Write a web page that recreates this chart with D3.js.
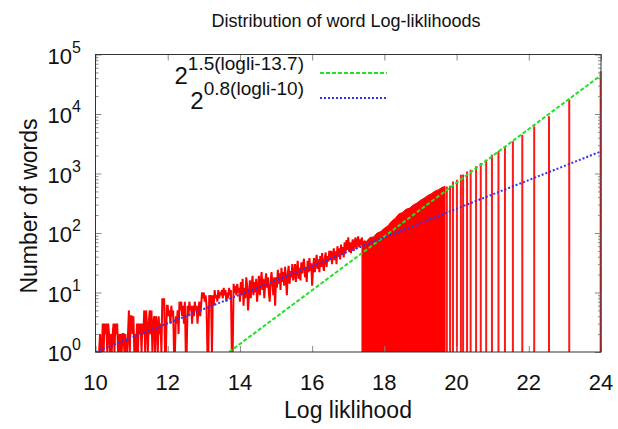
<!DOCTYPE html>
<html>
<head>
<meta charset="utf-8">
<script src="https://cdn.jsdelivr.net/npm/d3@7"></script>
<style>
    body { margin: 0; background: #fff; }
    text { font-family: "Liberation Sans", Arial, sans-serif; fill: #111; }
</style>
</head>
<body>
<div id="chart"></div>
<script>
// Histogram counts, bins of 0.025 starting at logli = 10 (noisy part up to 17.4)
const binStart = 10;
const binWidth = 0.025;
const lowCounts = [
    1, 1, 1, 1, 1, 2, 1, 1, 3, 1, 3, 2, 3, 1, 3, 2, 1, 2, 1, 2,
    3, 1, 3, 2, 3, 1, 2, 1, 2, 1, 2, 2, 1, 2, 1, 1, 2, 5, 1, 4,
    4, 2, 4, 1, 2, 1, 3, 1, 3, 2, 3, 1, 3, 2, 5, 1, 5, 3, 1, 3,
    5, 2, 5, 1, 3, 4, 1, 4, 3, 1, 4, 2, 3, 1, 8, 6, 8, 1, 1, 6,
    6, 4, 5, 3, 6, 4, 5, 1, 1, 4, 3, 5, 2, 7, 5, 7, 4, 6, 3, 7,
    1, 1, 6, 4, 7, 5, 6, 3, 6, 4, 7, 5, 6, 3, 5, 7, 4, 6, 10, 8,
    10, 7, 9, 6, 1, 1, 9, 7, 9, 1, 9, 6, 11, 8, 9, 7, 11, 8, 10, 9,
    11, 8, 12, 9, 11, 7, 10, 8, 12, 9, 11, 1, 1, 14, 10, 13, 9, 14, 11, 12,
    7, 15, 9, 17, 6, 12, 8, 18, 13, 5, 9, 16, 8, 13, 19, 9, 15, 10, 17, 7,
    12, 19, 9, 15, 22, 11, 17, 8, 14, 21, 12, 18, 10, 7, 16, 22, 14, 9, 18, 6,
    18, 12, 24, 14, 21, 11, 26, 15, 22, 13, 27, 17, 9, 21, 28, 14, 23, 18, 30, 16,
    20, 30, 15, 24, 34, 17, 26, 16, 32, 21, 30, 37, 18, 27, 15, 34, 22, 38, 23, 31,
    13, 25, 38, 22, 32, 43, 25, 36, 22, 41, 27, 46, 30, 23, 38, 47, 27, 41, 33, 50,
    35, 50, 30, 42, 55, 35, 49, 30, 60, 40, 55, 36, 64, 43, 58, 39, 70, 46, 76, 52,
    85, 50, 70, 46, 64, 78, 50, 68, 84, 54, 72, 88, 58, 78, 62, 84, 68
];

// Dense block of the histogram (drawn filled down to the axis)
const denseX = [17.38, 17.45, 17.5, 17.6, 17.7, 17.8, 17.9, 18.0, 18.1, 18.2, 18.3, 18.4,
    18.5, 18.6, 18.7, 18.8, 18.9, 19.0, 19.1, 19.2, 19.3, 19.4, 19.5, 19.6, 19.68];
const denseCounts = [68, 74, 72, 84, 86, 100, 106, 120, 132, 158, 176, 208,
    222, 250, 262, 295, 318, 355, 385, 425, 458, 505, 535, 585, 605];

// Isolated spikes in the tail
const spikeX = [19.73, 19.82, 19.90, 20.01, 20.12, 20.18, 20.29, 20.39, 20.54, 20.67,
    20.82, 20.98, 21.16, 21.34, 21.56, 21.82, 22.15, 22.56, 23.12, 23.99];
const spikeCounts = [607, 623, 736, 787, 955, 960, 1084, 1159, 1318, 1503,
    1708, 2071, 2355, 2859, 3470, 4500, 6210, 9140, 17470, 52400];

// Fitted power laws 2^(a(logli-b))
const fitLabels = ['1.5(logli-13.7)', '0.8(logli-10)'];
const fitSlopes = [1.5, 0.8];
const fitOffsets = [13.7, 10];

const xTicks = [10, 12, 14, 16, 18, 20, 22, 24];
const yExponents = [0, 1, 2, 3, 4, 5];

// Set up the dimensions
const width = 618;
const height = 429;
const plot = { left: 95.5, right: 601, top: 54.5, bottom: 352 };
const fitColors = ['#22e022', '#3333ee'];
const fitDash = ['4,2', '2,2'];

const svg = d3.select('#chart').append('svg')
    .attr('width', width)
    .attr('height', height);

const x = d3.scaleLinear().domain([10, 24]).range([plot.left, plot.right]);
const y = d3.scaleLog().domain([1, 1e5]).range([plot.bottom, plot.top]);

svg.append('clipPath').attr('id', 'clip')
    .append('rect')
    .attr('x', plot.left)
    .attr('y', plot.top)
    .attr('width', plot.right - plot.left + 2)
    .attr('height', plot.bottom - plot.top);

const g = svg.append('g').attr('clip-path', 'url(#clip)');

// Noisy part of the histogram as a line
const lowData = lowCounts.map((c, i) => ({ x: binStart + i * binWidth, c: c }));
g.append('path')
    .datum(lowData)
    .attr('fill', 'none')
    .attr('stroke', '#ff0000')
    .attr('stroke-width', 2)
    .attr('d', d3.line().x(d => x(d.x)).y(d => y(d.c)));

// Dense block
const denseData = denseX.map((v, i) => ({ x: v, c: denseCounts[i] }));
g.append('path')
    .datum(denseData)
    .attr('fill', '#ff0000')
    .attr('stroke', '#ff0000')
    .attr('stroke-width', 1)
    .attr('d', d3.area().x(d => x(d.x)).y0(y(1)).y1(d => y(d.c)));

// Spikes
g.selectAll('.spike')
    .data(spikeX.map((v, i) => ({ x: v, c: spikeCounts[i] })))
    .enter().append('line')
    .attr('class', 'spike')
    .attr('x1', d => x(d.x))
    .attr('x2', d => x(d.x))
    .attr('y1', y(1))
    .attr('y2', d => y(d.c))
    .attr('stroke', '#ff1a1a')
    .attr('stroke-width', 2);

// Fit lines (straight in log space, clipped at 1)
fitSlopes.forEach((a, i) => {
    const b = fitOffsets[i];
    const f = v => Math.pow(2, a * (v - b));
    const x0 = Math.max(10, b);
    g.append('line')
        .attr('x1', x(x0))
        .attr('y1', y(f(x0)))
        .attr('x2', x(24))
        .attr('y2', y(f(24)))
        .attr('stroke', fitColors[i])
        .attr('stroke-width', 2)
        .attr('stroke-dasharray', fitDash[i]);
});

// Ticks, inward on all four sides
const tickColor = '#888';
const minorTicks = y.ticks().filter(v => Math.abs(Math.log10(v) - Math.round(Math.log10(v))) > 1e-6);
function drawTicks(axis, transform) {
    const a = svg.append('g').attr('transform', transform).call(axis);
    a.select('.domain').remove();
    a.selectAll('line').attr('stroke', tickColor);
    a.selectAll('text').remove();
}
drawTicks(d3.axisBottom(x).tickValues(xTicks).tickSize(-6), `translate(0,${plot.bottom})`);
drawTicks(d3.axisTop(x).tickValues(xTicks).tickSize(-6), `translate(0,${plot.top})`);
drawTicks(d3.axisLeft(y).tickValues(yExponents.map(e => Math.pow(10, e))).tickSize(-6), `translate(${plot.left},0)`);
drawTicks(d3.axisLeft(y).tickValues(minorTicks).tickSize(-3), `translate(${plot.left},0)`);
drawTicks(d3.axisRight(y).tickValues(yExponents.map(e => Math.pow(10, e))).tickSize(-6), `translate(${plot.right},0)`);
drawTicks(d3.axisRight(y).tickValues(minorTicks).tickSize(-3), `translate(${plot.right},0)`);

// Frame
svg.append('rect')
    .attr('x', plot.left)
    .attr('y', plot.top)
    .attr('width', plot.right - plot.left)
    .attr('height', plot.bottom - plot.top)
    .attr('fill', 'none')
    .attr('stroke', '#333')
    .attr('stroke-width', 1);

// Tick labels
svg.selectAll('.xlab')
    .data(xTicks)
    .enter().append('text')
    .attr('class', 'xlab')
    .attr('x', d => x(d))
    .attr('y', 390)
    .attr('text-anchor', 'middle')
    .attr('font-size', '22px')
    .text(d => d);

const ylab = svg.selectAll('.ylab')
    .data(yExponents)
    .enter().append('text')
    .attr('class', 'ylab')
    .attr('x', 81)
    .attr('y', d => y(Math.pow(10, d)) + 9)
    .attr('text-anchor', 'end')
    .attr('font-size', '22px');
ylab.append('tspan').text('10');
ylab.append('tspan')
    .attr('dy', -11)
    .attr('font-size', '16px')
    .text(d => d);

// Title and axis labels
svg.append('text')
    .attr('x', 346)
    .attr('y', 27)
    .attr('text-anchor', 'middle')
    .attr('font-size', '18px')
    .text('Distribution of word Log-liklihoods');

svg.append('text')
    .attr('x', 348)
    .attr('y', 418)
    .attr('text-anchor', 'middle')
    .attr('font-size', '23px')
    .text('Log liklihood');

svg.append('text')
    .attr('transform', 'translate(37,206) rotate(-90)')
    .attr('text-anchor', 'middle')
    .attr('font-size', '23px')
    .text('Number of words');

// Legend
const legendY = [73, 98];
fitLabels.forEach((lab, i) => {
    const t = svg.append('text')
        .attr('x', 304)
        .attr('y', legendY[i] + 11)
        .attr('text-anchor', 'end')
        .attr('font-size', '24px');
    t.append('tspan').text('2');
    t.append('tspan')
        .attr('dy', -14)
        .attr('font-size', '19px')
        .text(lab);
    svg.append('line')
        .attr('x1', 320)
        .attr('x2', 387)
        .attr('y1', legendY[i])
        .attr('y2', legendY[i])
        .attr('stroke', fitColors[i])
        .attr('stroke-width', 2)
        .attr('stroke-dasharray', fitDash[i]);
});
</script>
</body>
</html>
